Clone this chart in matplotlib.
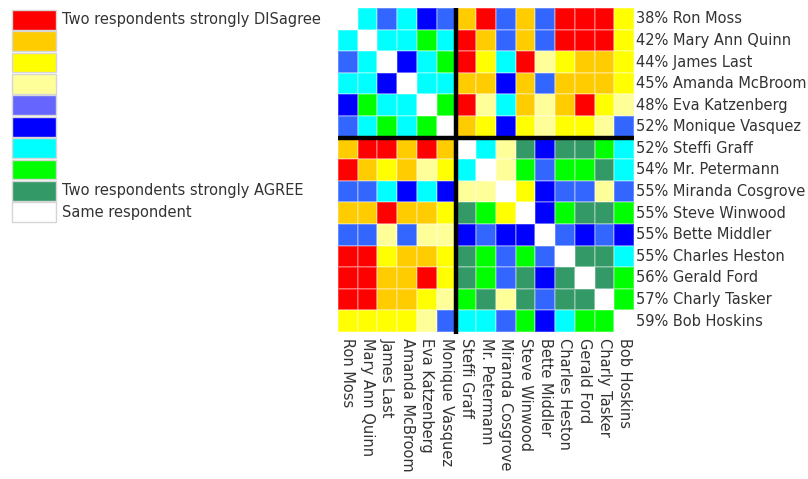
import numpy as np
import matplotlib
matplotlib.use("Agg")
import matplotlib.pyplot as plt
from matplotlib.colors import ListedColormap, BoundaryNorm
from matplotlib.patches import Rectangle

names = ["Ron Moss", "Mary Ann Quinn", "James Last", "Amanda McBroom",
         "Eva Katzenberg", "Monique Vasquez", "Steffi Graff", "Mr. Petermann",
         "Miranda Cosgrove", "Steve Winwood", "Bette Middler", "Charles Heston",
         "Gerald Ford", "Charly Tasker", "Bob Hoskins"]
percents = [38, 42, 44, 45, 48, 52, 52, 54, 55, 55, 55, 55, 56, 57, 59]

# 0 strongly disagree ... 8 strongly agree, 9 same respondent
level_colors = ["#ff0000", "#ffcc00", "#ffff00", "#ffff99", "#3366ff",
                "#0000ff", "#00ffff", "#00ff00", "#339966", "#ffffff"]
legend_colors = ["#ff0000", "#ffcc00", "#ffff00", "#ffff99", "#6666ff",
                 "#0000ff", "#00ffff", "#00ff00", "#339966", "#ffffff"]
legend_labels = {0: "Two respondents strongly DISagree",
                 8: "Two respondents strongly AGREE",
                 9: "Same respondent"}

agreement = np.array([
    [9, 6, 4, 6, 5, 4, 1, 0, 4, 1, 4, 0, 0, 0, 2],
    [6, 9, 6, 6, 7, 6, 0, 1, 4, 1, 4, 0, 0, 0, 2],
    [4, 6, 9, 5, 6, 7, 0, 2, 6, 0, 3, 2, 1, 1, 2],
    [6, 6, 5, 9, 6, 6, 1, 1, 5, 1, 4, 1, 1, 1, 2],
    [5, 7, 6, 6, 9, 7, 0, 3, 6, 1, 3, 1, 0, 2, 3],
    [4, 6, 7, 6, 7, 9, 1, 2, 5, 2, 3, 2, 2, 3, 4],
    [1, 0, 0, 1, 0, 1, 9, 6, 3, 8, 5, 8, 8, 7, 6],
    [0, 1, 2, 1, 3, 2, 6, 9, 3, 7, 4, 7, 7, 8, 6],
    [4, 4, 6, 5, 6, 5, 3, 3, 9, 2, 5, 4, 4, 3, 4],
    [1, 1, 0, 1, 1, 2, 8, 7, 2, 9, 5, 7, 8, 8, 7],
    [4, 4, 3, 4, 3, 3, 5, 4, 5, 5, 9, 4, 5, 4, 5],
    [0, 0, 2, 1, 1, 2, 8, 7, 4, 7, 4, 9, 8, 8, 6],
    [0, 0, 1, 1, 0, 2, 8, 7, 4, 8, 5, 8, 9, 8, 7],
    [0, 0, 1, 1, 2, 3, 7, 8, 3, 8, 4, 8, 8, 9, 7],
    [2, 2, 2, 2, 3, 4, 6, 6, 4, 7, 5, 6, 7, 7, 9],
])
split = 6  # first cluster size

W, H = 808, 479
fig = plt.figure(figsize=(W / 100, H / 100), dpi=100)
fig.patch.set_facecolor("white")
txt_color = "#333333"
font = "DejaVu Sans"

def px_axes(x0, y0, x1, y1):
    return fig.add_axes([x0 / W, 1 - y1 / H, (x1 - x0) / W, (y1 - y0) / H])

# matrix
ax = px_axes(338, 8, 634, 332)
n = len(names)
cmap = ListedColormap(level_colors)
norm = BoundaryNorm(np.arange(-0.5, 10.5), cmap.N)
ax.pcolormesh(np.arange(n + 1), np.arange(n + 1), agreement, cmap=cmap, norm=norm,
              edgecolors=(1, 1, 1, 0.25), linewidth=0.3)
ax.set_xlim(0, n)
ax.set_ylim(n, 0)
ax.axis("off")
ax.plot([split, split], [0, n + 0.1], color="black", lw=3.2, solid_capstyle="butt", clip_on=False)
ax.plot([0, n], [split, split], color="black", lw=3.2, solid_capstyle="butt", clip_on=False)

for i, (nm, p) in enumerate(zip(names, percents)):
    ax.text(n + 0.12, i + 0.5, f"{p}% {nm}", ha="left", va="center",
            fontsize=10.5, color=txt_color, family=font)
    ax.text(i + 0.5, n + 0.3, nm, ha="center", va="top", rotation=270,
            fontsize=10.5, color=txt_color, family=font)

# legend
lax = px_axes(0, 0, 338, 240)
lax.set_xlim(0, 338)
lax.set_ylim(240, 0)
lax.axis("off")
sw_h = 21.4
for k, c in enumerate(legend_colors):
    y0 = 9 + k * sw_h
    lax.add_patch(Rectangle((12, y0 + 0.8), 44, sw_h - 1.6, facecolor=c,
                            edgecolor="#d6d6d6", lw=1.0))
    if k in legend_labels:
        lax.text(62, y0 + sw_h / 2, legend_labels[k], ha="left", va="center",
                 fontsize=10.5, color=txt_color, family=font)

fig.savefig("out.png", dpi=100, facecolor="white")
